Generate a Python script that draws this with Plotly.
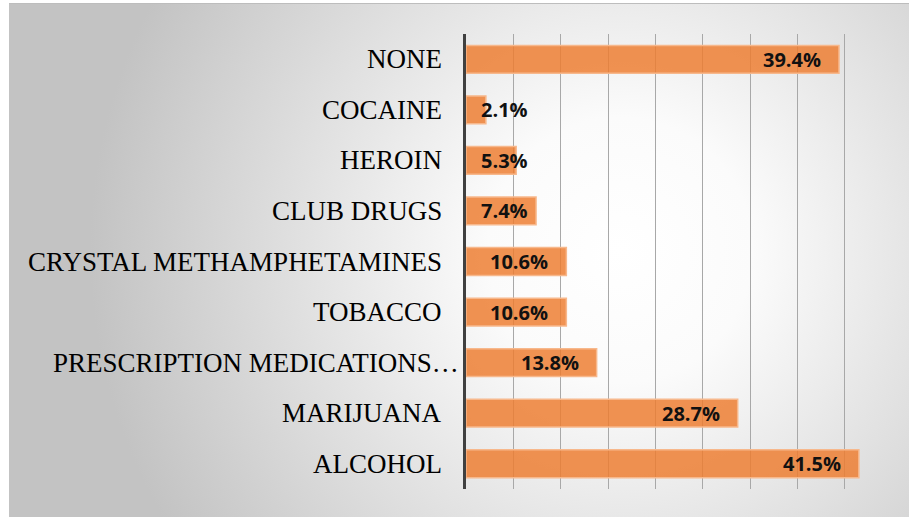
import base64
import plotly.graph_objects as go

# Substances used, listed top to bottom, with share of respondents (%)
categories = [
    "NONE",
    "COCAINE",
    "HEROIN",
    "CLUB DRUGS",
    "CRYSTAL METHAMPHETAMINES",
    "TOBACCO",
    "PRESCRIPTION MEDICATIONS…",
    "MARIJUANA",
    "ALCOHOL",
]
values = [39.4, 2.1, 5.3, 7.4, 10.6, 10.6, 13.8, 28.7, 41.5]
value_labels = ["39.4%", "2.1%", "5.3%", "7.4%", "10.6%", "10.6%", "13.8%", "28.7%", "41.5%"]

W, H = 909, 517
M_L, M_R, M_T, M_B = 466, 17, 34, 28
X_MAX = 45
plot_w = W - M_L - M_R
plot_h = H - M_T - M_B
px_per_unit = plot_w / X_MAX

# Radial grey background panel behind the whole chart
panel_x0, panel_y0 = 9, 3
panel_w, panel_h = W - panel_x0, H - panel_y0
svg = f"""<svg xmlns='http://www.w3.org/2000/svg' width='{panel_w}' height='{panel_h}' viewBox='0 0 {panel_w} {panel_h}' preserveAspectRatio='none'>
<defs><radialGradient id='g' gradientUnits='userSpaceOnUse' cx='{620 - panel_x0}' cy='{250 - panel_y0}' r='530'>
<stop offset='0' stop-color='#ffffff'/><stop offset='0.25' stop-color='#fbfbfb'/>
<stop offset='1' stop-color='#c3c3c3'/></radialGradient></defs>
<rect x='0' y='0' width='{panel_w}' height='{panel_h}' fill='url(#g)'/>
<line x1='0' y1='0.5' x2='{panel_w}' y2='0.5' stroke='#bdbdbd' stroke-width='1'/>
</svg>"""
svg_uri = "data:image/svg+xml;base64," + base64.b64encode(svg.encode()).decode()

fig = go.Figure()
fig.add_trace(go.Bar(
    y=categories,
    x=values,
    orientation="h",
    marker=dict(color="rgba(237,125,49,0.84)",
                line=dict(color="rgba(247,184,140,1)", width=1.5)),
    hoverinfo="skip",
))

# Category labels to the left of the axis; a truncated label lets its ellipsis run closer to the axis
for cat in categories:
    shift = -5 if cat.endswith("…") else -22
    fig.add_annotation(
        x=0, y=cat, xref="paper", yref="y", text=cat, showarrow=False,
        xanchor="right", yanchor="middle", xshift=shift,
        font=dict(family="Liberation Serif", size=27, color="#000000"),
    )

# Value labels: inside the bar end, or clamped near the axis for short bars
pad = 16
min_right = 64
for cat, v, lab in zip(categories, values, value_labels):
    end_px = v * px_per_unit
    if end_px - pad >= min_right:
        x, shift = v, -pad
    else:
        x, shift = 0, min_right
    fig.add_annotation(
        x=x, y=cat, xref="x", yref="y", text=lab, showarrow=False,
        xanchor="right", yanchor="middle", xshift=shift, yshift=0,
        font=dict(family="Open Sans", size=20, color="#111111", weight="bold"),
    )

fig.add_layout_image(
    source=svg_uri, xref="paper", yref="paper",
    x=(panel_x0 - M_L) / plot_w, y=(H - M_B - panel_y0) / plot_h,
    sizex=panel_w / plot_w, sizey=panel_h / plot_h,
    xanchor="left", yanchor="top", sizing="stretch", layer="below",
)

fig.update_layout(
    width=W, height=H,
    margin=dict(l=M_L, r=M_R, t=M_T, b=M_B),
    paper_bgcolor="white",
    plot_bgcolor="rgba(0,0,0,0)",
    showlegend=False,
    bargap=0.45,
    xaxis=dict(range=[0, X_MAX], dtick=5, showticklabels=False,
               showgrid=True, gridcolor="#a8a8a8", gridwidth=1,
               zeroline=False, showline=False, fixedrange=True),
    yaxis=dict(autorange="reversed", showline=True, linecolor="#404040",
               linewidth=3, ticks="", showticklabels=False,
               showgrid=False, fixedrange=True),
)

fig.write_html("out.html")
